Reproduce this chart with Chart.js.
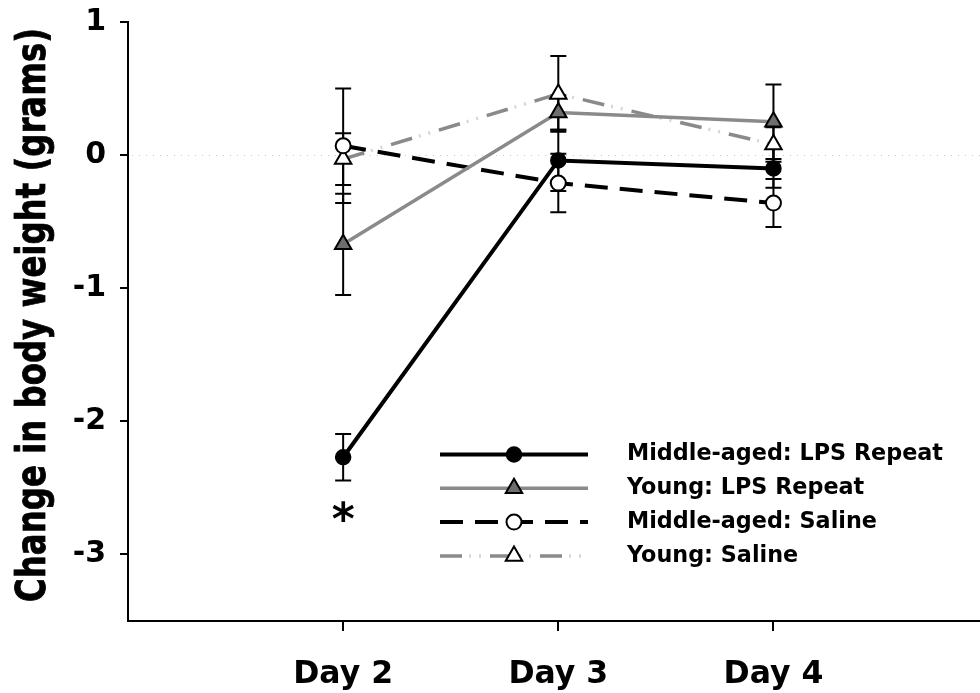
<!DOCTYPE html>
<html>
<head>
<meta charset="utf-8">
<script src="https://cdn.jsdelivr.net/npm/chart.js"></script>
<style>
  html, body { margin: 0; padding: 0; background: #fff; }
  #wrap { width: 980px; height: 693px; position: relative; }
</style>
</head>
<body>
<div id="wrap"><canvas id="weightChart"></canvas></div>
<script>
// --- data ---
const categories = ['Day 2', 'Day 3', 'Day 4'];
const dayValues = [2, 3, 4];
const yTickValues = [-3, -2, -1, 0, 1];

const seriesLabels = ['Middle-aged: LPS Repeat', 'Young: LPS Repeat', 'Middle-aged: Saline', 'Young: Saline'];
const middleAgedLps = [-2.27, -0.04, -0.10];
const middleAgedLpsSe = [0.175, 0.23, 0.145];
const youngLps = [-0.67, 0.32, 0.25];
const youngLpsSe = [0.38, 0.13, 0.28];
const middleAgedSaline = [0.07, -0.21, -0.36];
const middleAgedSalineSe = [0.43, 0.22, 0.18];
const youngSaline = [-0.03, 0.46, 0.08];
const youngSalineSe = [0.195, 0.285, 0.13];

const yTitle = 'Change in body weight (grams)';
const sigMark = '*';          // significance mark under Day 2, middle-aged LPS
const sigIndex = 0;

const FONT = "'DejaVu Sans', Verdana, sans-serif";
const toPoints = vals => vals.map((v, i) => ({ x: dayValues[i], y: v }));
const noPad = s => { s.paddingTop = 0; s.paddingBottom = 0; s.paddingLeft = 0; s.paddingRight = 0; };

// error bars + zero reference line, drawn under the lines
const errorBars = {
  id: 'errorBars',
  beforeDatasetsDraw(chart) {
    const { ctx, chartArea, scales: { x, y } } = chart;
    // dotted zero line
    ctx.save();
    ctx.strokeStyle = '#c8c8c8';
    ctx.lineWidth = 1;
    ctx.setLineDash([1, 6]);
    ctx.beginPath();
    ctx.moveTo(chartArea.left + 4, Math.round(y.getPixelForValue(0)) + 0.5);
    ctx.lineTo(chartArea.right, Math.round(y.getPixelForValue(0)) + 0.5);
    ctx.stroke();
    ctx.restore();

    ctx.save();
    ctx.strokeStyle = '#000';
    ctx.lineWidth = 2;
    chart.data.datasets.forEach(ds => {
      if (!ds.se) return;
      ds.data.forEach((p, i) => {
        const px = x.getPixelForValue(p.x);
        const top = y.getPixelForValue(p.y + ds.se[i]);
        const bot = y.getPixelForValue(p.y - ds.se[i]);
        ctx.beginPath();
        ctx.moveTo(px, top); ctx.lineTo(px, bot);
        ctx.moveTo(px - 8, top); ctx.lineTo(px + 8, top);
        ctx.moveTo(px - 8, bot); ctx.lineTo(px + 8, bot);
        ctx.stroke();
      });
    });
    ctx.restore();
  }
};

function drawMarker(ctx, ds, cx, cy) {
  ctx.save();
  ctx.fillStyle = ds.pointBackgroundColor;
  ctx.strokeStyle = ds.pointBorderColor;
  ctx.lineWidth = ds.pointBorderWidth;
  ctx.setLineDash([]);
  if (Chart.helpers && Chart.helpers.drawPoint) {
    Chart.helpers.drawPoint(ctx, { pointStyle: ds.pointStyle, radius: ds.pointRadius, rotation: 0, borderWidth: ds.pointBorderWidth }, cx, cy);
  } else {
    ctx.beginPath();
    ctx.arc(cx, cy, ds.pointRadius, 0, Math.PI * 2);
    ctx.fill(); ctx.stroke();
  }
  ctx.restore();
}

// legend (line sample with marker in the middle), asterisk and the y title
const decorations = {
  id: 'decorations',
  afterDatasetsDraw(chart) {
    const { ctx, scales: { x, y } } = chart;
    const lgX0 = 440, lgX1 = 588, lgTop = 454.5, lgGap = 33.8, lgText = 627;

    chart.data.datasets.forEach((ds, i) => {
      if (ds.legendHidden) return;
      const ly = lgTop + i * lgGap;
      ctx.save();
      ctx.strokeStyle = ds.borderColor;
      ctx.lineWidth = ds.borderWidth;
      ctx.setLineDash(ds.borderDash || []);
      ctx.beginPath();
      ctx.moveTo(lgX0, ly); ctx.lineTo(lgX1, ly);
      ctx.stroke();
      ctx.restore();
      if (ds.dotColor) {
        ctx.save();
        ctx.strokeStyle = ds.dotColor;
        ctx.lineWidth = ds.borderWidth;
        ctx.setLineDash([2, 8, 2, 38]);
        ctx.lineDashOffset = 21;
        ctx.beginPath();
        ctx.moveTo(lgX0, ly); ctx.lineTo(lgX1, ly);
        ctx.stroke();
        ctx.restore();
      }
      drawMarker(ctx, ds, (lgX0 + lgX1) / 2, ly);
      ctx.save();
      ctx.fillStyle = '#000';
      ctx.font = 'bold 22.3px ' + FONT;
      ctx.textBaseline = 'middle';
      ctx.fillText(ds.label, lgText, ly);
      ctx.restore();
    });

    // asterisk under the lower whisker
    const base = chart.data.datasets[0];
    const ax = x.getPixelForValue(dayValues[sigIndex]);
    const ay = y.getPixelForValue(base.data[sigIndex].y - base.se[sigIndex]) + 31;
    ctx.save();
    ctx.fillStyle = '#000';
    ctx.font = 'bold 44px ' + FONT;
    ctx.textAlign = 'center';
    const m = ctx.measureText(sigMark);
    ctx.fillText(sigMark, ax, ay + (m.actualBoundingBoxAscent - m.actualBoundingBoxDescent) / 2);
    ctx.restore();

    // rotated, condensed y title
    ctx.save();
    ctx.fillStyle = '#000';
    ctx.strokeStyle = '#000';
    ctx.lineWidth = 0.8;
    ctx.font = 'bold 41px ' + FONT;
    ctx.textAlign = 'center';
    ctx.textBaseline = 'alphabetic';
    const w = ctx.measureText(yTitle).width;
    ctx.translate(45, 315);
    ctx.rotate(-Math.PI / 2);
    ctx.scale(574 / w, 1);
    ctx.fillText(yTitle, 0, 0);
    ctx.strokeText(yTitle, 0, 0);
    ctx.restore();
  }
};

const ctx = document.getElementById('weightChart').getContext('2d');
new Chart(ctx, {
  type: 'line',
  data: {
    datasets: [
      { label: seriesLabels[0], data: toPoints(middleAgedLps), se: middleAgedLpsSe,
        borderColor: '#000', borderWidth: 4, pointStyle: 'circle', pointRadius: 7.5,
        pointBackgroundColor: '#000', pointBorderColor: '#000', pointBorderWidth: 1.5 },
      { label: seriesLabels[1], data: toPoints(youngLps), se: youngLpsSe,
        borderColor: '#8a8a8a', borderWidth: 3.5, pointStyle: 'triangle', pointRadius: 9.5,
        pointBackgroundColor: '#6e6e6e', pointBorderColor: '#000', pointBorderWidth: 2 },
      { label: seriesLabels[2], data: toPoints(middleAgedSaline), se: middleAgedSalineSe,
        borderColor: '#000', borderWidth: 4, borderDash: [23, 12], pointStyle: 'circle', pointRadius: 7.5,
        pointBackgroundColor: '#fff', pointBorderColor: '#000', pointBorderWidth: 2 },
      { label: seriesLabels[3], data: toPoints(youngSaline), se: youngSalineSe,
        borderColor: '#8a8a8a', borderWidth: 3.5, borderDash: [22, 28], dotColor: '#d6d6d6',
        pointStyle: 'triangle', pointRadius: 9.5,
        pointBackgroundColor: '#fff', pointBorderColor: '#000', pointBorderWidth: 2 },
      // faint dots inside the gaps of the young saline line
      { label: 'dots', legendHidden: true, data: toPoints(youngSaline),
        borderColor: '#d6d6d6', borderWidth: 3.5, borderDash: [2, 8, 2, 38], borderDashOffset: 21,
        pointRadius: 0 }
    ]
  },
  options: {
    responsive: true,
    maintainAspectRatio: false,
    animation: false,
    layout: { autoPadding: false, padding: { top: 22, right: 0, left: 0, bottom: 0 } },
    plugins: { legend: { display: false }, tooltip: { enabled: false } },
    elements: { line: { tension: 0 } },
    scales: {
      x: {
        type: 'linear', min: 1, max: 4.96,
        afterBuildTicks: s => { s.ticks = dayValues.map(v => ({ value: v })); },
        afterFit: s => { s.height = 72; noPad(s); },
        ticks: {
          callback: v => categories[dayValues.indexOf(v)],
          color: '#000', padding: 25, maxRotation: 0, autoSkip: false,
          font: { family: FONT, weight: 'bold', size: 31.5 }
        },
        grid: { drawOnChartArea: false, drawTicks: true, tickLength: 10, color: '#000', lineWidth: 2 },
        border: { color: '#000', width: 2 }
      },
      y: {
        min: -3.5, max: 1,
        afterBuildTicks: s => { s.ticks = yTickValues.map(v => ({ value: v })); },
        afterFit: s => { s.width = 128; noPad(s); },
        ticks: {
          callback: v => String(v),
          color: '#000', padding: 14,
          font: { family: FONT, weight: 'bold', size: 30 }
        },
        grid: { drawOnChartArea: false, drawTicks: true, tickLength: 8, color: '#000', lineWidth: 2 },
        border: { color: '#000', width: 2 }
      }
    }
  },
  plugins: [errorBars, decorations]
});
</script>
</body>
</html>
